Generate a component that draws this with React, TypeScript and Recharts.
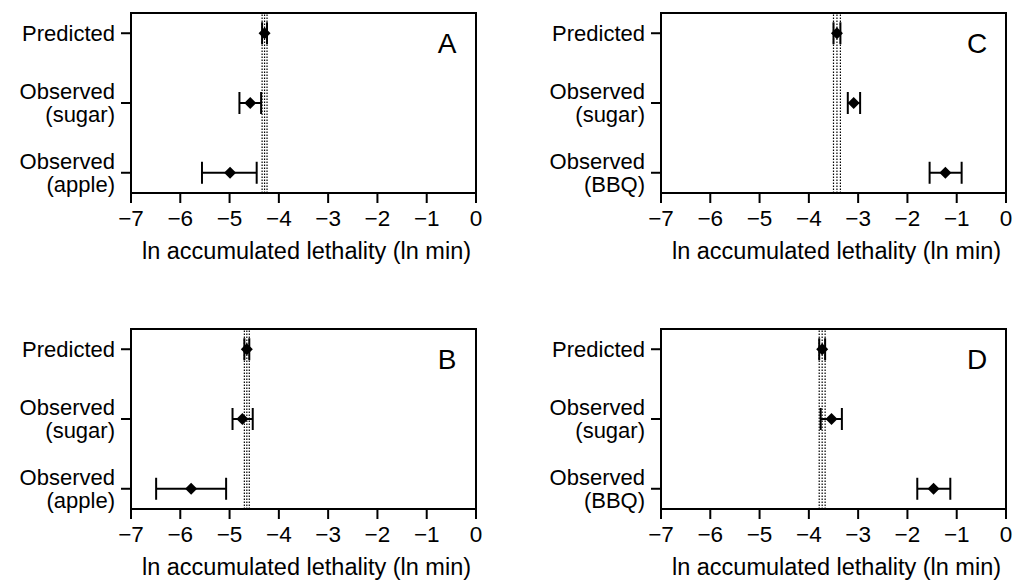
import { ScatterChart, Scatter, XAxis, YAxis, ErrorBar, ReferenceLine, ReferenceArea } from 'recharts'

const FONT = "'Liberation Sans', Arial, Helvetica, sans-serif"

const rows = [0, 1, 2]
const xTicks = [-7, -6, -5, -4, -3, -2, -1, 0]
const labelsApple = [['Predicted'], ['Observed', '(sugar)'], ['Observed', '(apple)']]
const labelsBBQ = [['Predicted'], ['Observed', '(sugar)'], ['Observed', '(BBQ)']]

// panel A
const meanA = [-4.29, -4.58, -4.99]
const lowA = [-4.34, -4.8, -5.56]
const highA = [-4.24, -4.36, -4.45]
const bandA = [-4.34, -4.29, -4.24]

// panel B
const meanB = [-4.65, -4.74, -5.78]
const lowB = [-4.7, -4.94, -6.49]
const highB = [-4.6, -4.53, -5.07]
const bandB = [-4.7, -4.65, -4.6]

// panel C
const meanC = [-3.43, -3.09, -1.23]
const lowC = [-3.5, -3.21, -1.55]
const highC = [-3.36, -2.96, -0.9]
const bandC = [-3.5, -3.43, -3.36]

// panel D
const meanD = [-3.73, -3.54, -1.47]
const lowD = [-3.79, -3.76, -1.8]
const highD = [-3.67, -3.33, -1.13]
const bandD = [-3.79, -3.73, -3.67]

const yDomain = [-0.29, 2.29]

const Diamond = (p: any) => {
  const { cx, cy } = p
  const r = 6
  return <polygon points={`${cx - r},${cy} ${cx},${cy - r} ${cx + r},${cy} ${cx},${cy + r}`} fill="#000" />
}

const YTick = (p: any) => {
  const { x, y, payload, labels } = p
  const lines: string[] = labels[payload.value] || []
  if (lines.length === 1) {
    return (
      <text x={x} y={y + 8} textAnchor="end" fontSize={22} fontFamily={FONT} fill="#000">{lines[0]}</text>
    )
  }
  return (
    <text textAnchor="end" fontSize={22} fontFamily={FONT} fill="#000">
      <tspan x={x} y={y - 4}>{lines[0]}</tspan>
      <tspan x={x} y={y + 19}>{lines[1]}</tspan>
    </text>
  )
}

const XTick = (p: any) => {
  const { x, y, payload } = p
  const s = String(payload.value).replace('-', '\u2212')
  return (
    <text x={x} y={y + 23} textAnchor="middle" fontSize={22.5} fontFamily={FONT} fill="#000">{s}</text>
  )
}

const AxisTitle = (p: any) => {
  const vb = p.viewBox || {}
  return (
    <text x={vb.x + vb.width / 2 + 3} y={vb.y + 66} textAnchor="middle" fontSize={23.5} fontFamily={FONT} fill="#000">
      ln accumulated lethality (ln min)
    </text>
  )
}

type PanelProps = {
  letter: string
  mean: number[]
  low: number[]
  high: number[]
  band: number[]
  labels: string[][]
  left: number
  top: number
}

const Panel = ({ letter, mean, low, high, band, labels, left, top }: PanelProps) => {
  const data = rows.map((i) => ({ x: mean[i], y: i, err: [mean[i] - low[i], high[i] - mean[i]] }))
  return (
    <div style={{ position: 'absolute', left, top, width: 483, height: 266 }}>
      <ScatterChart width={483} height={266} margin={{ top: 13, right: 7, bottom: 0, left: 11 }}>
        <XAxis
          type="number"
          dataKey="x"
          domain={[-7, 0]}
          ticks={xTicks}
          allowDataOverflow
          height={73}
          tickSize={10}
          tickMargin={0}
          stroke="#000"
          strokeWidth={2}
          tick={(t: any) => <XTick {...t} />}
          label={{ content: (l: any) => <AxisTitle {...l} /> } as any}
        />
        <YAxis
          type="number"
          dataKey="y"
          domain={yDomain}
          ticks={rows}
          reversed
          allowDataOverflow
          width={120}
          tickSize={10}
          tickMargin={6}
          stroke="#000"
          strokeWidth={2}
          tick={(t: any) => <YTick {...t} labels={labels} />}
        />
        <ReferenceArea x1={-7} x2={0} y1={yDomain[0]} y2={yDomain[1]} fill="none" stroke="#000" strokeWidth={2} ifOverflow="visible" />
        {band.map((b, i) => (
          <ReferenceLine key={i} x={b} stroke="#000" strokeWidth={1.2} strokeDasharray="1.5 1.5" />
        ))}
        <Scatter data={data} shape={Diamond} isAnimationActive={false}>
          <ErrorBar dataKey="err" direction="x" width={11} stroke="#000" strokeWidth={2} isAnimationActive={false} />
        </Scatter>
      </ScatterChart>
      <div
        style={{
          position: 'absolute',
          left: 447,
          top: 44,
          transform: 'translate(-50%, -50%)',
          fontFamily: FONT,
          fontSize: 28,
          lineHeight: 1,
          color: '#000',
        }}
      >
        {letter}
      </div>
    </div>
  )
}

export default function App() {
  return (
    <div style={{ position: 'absolute', left: 0, top: 0, width: 1013, height: 582, background: '#fff' }}>
      <Panel letter="A" mean={meanA} low={lowA} high={highA} band={bandA} labels={labelsApple} left={0} top={0} />
      <Panel letter="C" mean={meanC} low={lowC} high={highC} band={bandC} labels={labelsBBQ} left={530} top={0} />
      <Panel letter="B" mean={meanB} low={lowB} high={highB} band={bandB} labels={labelsApple} left={0} top={316} />
      <Panel letter="D" mean={meanD} low={lowD} high={highD} band={bandD} labels={labelsBBQ} left={530} top={316} />
    </div>
  )
}
